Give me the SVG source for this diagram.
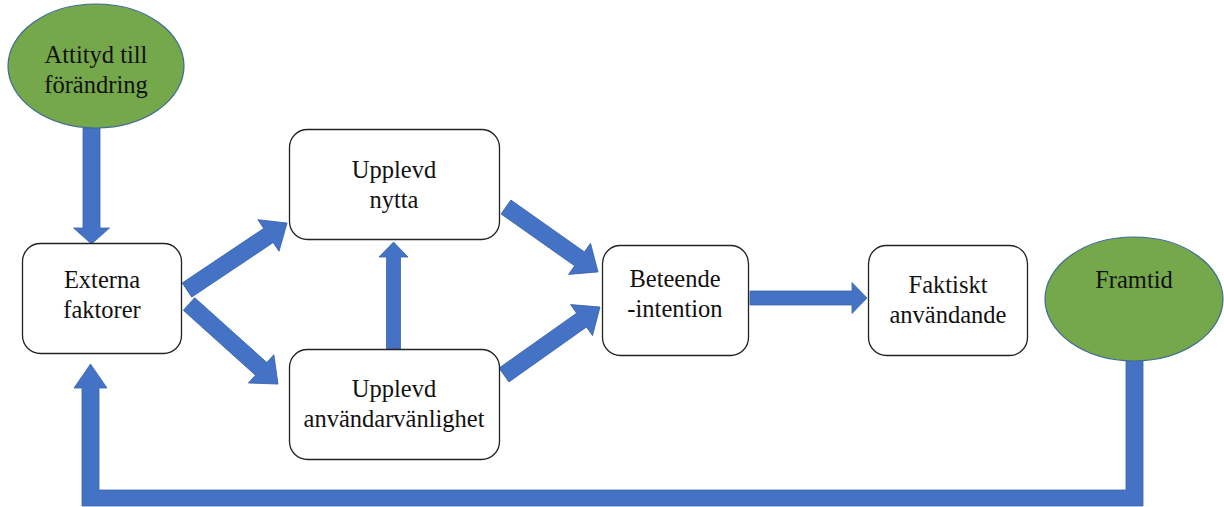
<svg xmlns="http://www.w3.org/2000/svg" width="1224" height="507" viewBox="0 0 1224 507">
<style>
.box{fill:#fff;stroke:#222;stroke-width:1.3}
.ell{fill:#75A84B;stroke:#3E6A96;stroke-width:1.2}
.arr{fill:#4472C4;stroke:#3A64AE;stroke-width:0.8}
text{font-family:'Liberation Serif','Times New Roman',serif;font-size:24.5px;fill:#111;text-anchor:middle}
</style>
<rect width="1224" height="507" fill="#fff"/>
<g id="connectors">
  <polygon class="arr" points="83,128 100,128 100,228 109.5,228 91.5,244 73.5,228 83,228"/>
  <polygon class="arr" transform="translate(187,290) rotate(-33.8)" points="0,-8.5 98,-8.5 98,-19 120.4,0 98,19 98,8.5 0,8.5"/>
  <polygon class="arr" transform="translate(189,304) rotate(41.96)" points="0,-8.5 97,-8.5 97,-19 119.7,0 97,19 97,8.5 0,8.5"/>
  <polygon class="arr" points="386.5,349 400.5,349 400.5,257 408,257 393.5,242 379,257 386.5,257"/>
  <polygon class="arr" transform="translate(506,207) rotate(35.2)" points="0,-8.5 90,-8.5 90,-19 112.6,0 90,19 90,8.5 0,8.5"/>
  <polygon class="arr" transform="translate(504,375) rotate(-35.3)" points="0,-8.5 95,-8.5 95,-19 117.6,0 95,19 95,8.5 0,8.5"/>
  <polygon class="arr" points="750,291 852,291 852,282.5 867,298 852,313.5 852,305 750,305"/>
  <polygon class="arr" points="1143,359 1143,506 82,506 82,388 74,388 90.5,364 107,388 99,388 99,490 1126,490 1126,359"/>
</g>
<g id="attityd">
  <ellipse class="ell" cx="96" cy="66" rx="88" ry="62"/>
  <text x="96" y="63">Attityd till</text>
  <text x="96" y="93">förändring</text>
</g>
<g id="externa">
  <rect class="box" x="22.5" y="243.5" width="159" height="110" rx="18"/>
  <text x="102" y="288">Externa</text>
  <text x="102" y="318">faktorer</text>
</g>
<g id="nytta">
  <rect class="box" x="289.5" y="129.5" width="210" height="110" rx="18"/>
  <text x="394" y="178">Upplevd</text>
  <text x="394" y="208">nytta</text>
</g>
<g id="anvandarvanlighet">
  <rect class="box" x="289.5" y="349.5" width="210" height="110" rx="18"/>
  <text x="394" y="397">Upplevd</text>
  <text x="394" y="427">användarvänlighet</text>
</g>
<g id="beteende">
  <rect class="box" x="602.5" y="245.5" width="146" height="110" rx="18"/>
  <text x="675" y="287">Beteende</text>
  <text x="675" y="317">-intention</text>
</g>
<g id="faktiskt">
  <rect class="box" x="868.5" y="245.5" width="159" height="110" rx="18"/>
  <text x="948" y="293">Faktiskt</text>
  <text x="948" y="323">användande</text>
</g>
<g id="framtid">
  <ellipse class="ell" cx="1134" cy="299" rx="89" ry="62"/>
  <text x="1134" y="288">Framtid</text>
</g>
</svg>
